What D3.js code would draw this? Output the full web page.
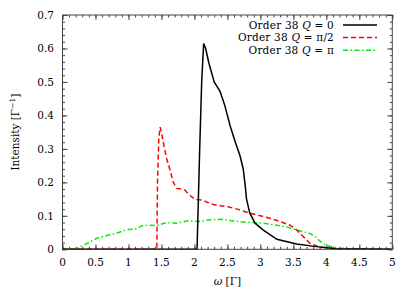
<!DOCTYPE html>
<html>
<head>
<meta charset="utf-8">
<script src="https://cdn.jsdelivr.net/npm/d3@7"></script>
<style>
body { margin: 0; background: #fff; }
</style>
</head>
<body>
<div class="chart"></div>
<script>
// series: [omega, intensity]
const q0 = [[0,0],[2.04,0],[2.06,0.15],[2.08,0.3],[2.11,0.5],[2.14,0.615],[2.17,0.6],[2.22,0.556],[2.3,0.5],[2.39,0.471],[2.46,0.43],[2.54,0.37],[2.62,0.32],[2.69,0.28],[2.74,0.24],[2.77,0.19],[2.79,0.15],[2.84,0.108],[2.92,0.078],[3.04,0.058],[3.25,0.030],[3.55,0.016],[3.85,0.008],[4.15,0.002],[5,0]]

const qHalfPi = [[0,0],[1.43,0],[1.44,0.2],[1.46,0.33],[1.48,0.365],[1.5,0.35],[1.54,0.307],[1.58,0.27],[1.63,0.237],[1.68,0.2],[1.73,0.182],[1.8,0.18],[1.85,0.178],[1.91,0.165],[1.97,0.155],[2.03,0.149],[2.13,0.147],[2.2,0.14],[2.29,0.134],[2.4,0.13],[2.51,0.127],[2.65,0.12],[2.84,0.108],[3.0,0.1],[3.14,0.093],[3.3,0.083],[3.45,0.072],[3.52,0.063],[3.6,0.048],[3.65,0.038],[3.75,0.018],[3.9,0.007],[4.15,0.001],[5,0]]

const qPi = [[0,0],[0.2,0],[0.27,0.008],[0.4,0.02],[0.52,0.033],[0.67,0.041],[0.82,0.048],[0.92,0.055],[1.0,0.059],[1.1,0.06],[1.2,0.07],[1.3,0.072],[1.43,0.071],[1.58,0.08],[1.73,0.078],[1.91,0.085],[2.06,0.083],[2.23,0.088],[2.41,0.09],[2.54,0.086],[2.7,0.082],[2.85,0.08],[3.04,0.078],[3.2,0.073],[3.4,0.067],[3.55,0.058],[3.75,0.047],[3.82,0.04],[3.9,0.025],[3.97,0.015],[4.05,0.009],[4.2,0.004],[4.4,0.001],[5,0]]

const legendLabels = ['0', 'π/2', 'π']
const xTicks = [0, 0.5, 1, 1.5, 2, 2.5, 3, 3.5, 4, 4.5, 5]
const yTicks = [0, 0.1, 0.2, 0.3, 0.4, 0.5, 0.6, 0.7]

const width = 415, height = 291
const margin = {left: 62.5, right: 22.7, top: 15, bottom: 41.7}
const serif = '"DejaVu Serif", serif'
const fs = 10.5

const svg = d3.select('.chart').append('svg')
.attr('width', width)
.attr('height', height)
.style('font-family', serif)

let x = d3.scaleLinear().domain([0, 5]).range([margin.left, width - margin.right])
let y = d3.scaleLinear().domain([0, 0.7]).range([height - margin.bottom, margin.top])

const frameColor = '#444'

// ticks on all four sides, pointing inwards
const minorX = d3.range(0, 5.001, 0.1)
const minorY = d3.range(0, 0.7001, 0.02)

const axes = [
	{ax: d3.axisBottom(x), tr: `translate(0,${y(0)})`, vals: xTicks, minor: minorX},
	{ax: d3.axisTop(x), tr: `translate(0,${y(0.7)})`, vals: xTicks, minor: minorX},
	{ax: d3.axisLeft(y), tr: `translate(${x(0)},0)`, vals: yTicks, minor: minorY},
	{ax: d3.axisRight(y), tr: `translate(${x(5)},0)`, vals: yTicks, minor: minorY}
]

axes.forEach(a => {
	let gMinor = svg.append('g').attr('transform', a.tr)
	.call(a.ax.tickValues(a.minor).tickSize(-2.5).tickFormat(''))
	gMinor.select('.domain').remove()
	gMinor.selectAll('line').attr('stroke', frameColor)

	let gMajor = svg.append('g').attr('transform', a.tr)
	.call(a.ax.tickValues(a.vals).tickSize(-5).tickFormat(''))
	gMajor.select('.domain').remove()
	gMajor.selectAll('line').attr('stroke', frameColor)
})

// tick labels
svg.append('g').selectAll('text')
.data(xTicks)
.enter()
.append('text')
.attr('x', d => x(d))
.attr('y', 266)
.attr('text-anchor', 'middle')
.style('font-family', serif)
.attr('font-size', fs)
.text(d => d3.format('')(d))

svg.append('g').selectAll('text')
.data(yTicks)
.enter()
.append('text')
.attr('x', 54)
.attr('y', d => y(d) + 3.8)
.attr('text-anchor', 'end')
.style('font-family', serif)
.attr('font-size', fs)
.text(d => d === 0 ? '0' : d3.format('.1f')(d))

// curves
const line = d3.line()
.x(d => x(d[0]))
.y(d => y(d[1]))

const series = [
	{data: qPi, color: '#00ee00', dash: '5,2.5,1.5,2.5'},
	{data: qHalfPi, color: '#ff0000', dash: '5,3'},
	{data: q0, color: '#000', dash: null}
]

series.forEach(s => {
	svg.append('path')
	.attr('d', line(s.data))
	.attr('fill', 'none')
	.attr('stroke', s.color)
	.attr('stroke-width', 1.5)
	.attr('stroke-dasharray', s.dash)
})

// frame
svg.append('rect')
.attr('x', x(0))
.attr('y', y(0.7))
.attr('width', x(5) - x(0))
.attr('height', y(0) - y(0.7))
.attr('fill', 'none')
.attr('stroke', frameColor)
.attr('stroke-width', 1)

// legend
const legendStyles = [series[2], series[1], series[0]]
legendLabels.forEach((lab, i) => {
	let yy = 25 + i * 12.6
	let t = svg.append('text')
	.attr('x', 334)
	.attr('y', yy + 3.8)
	.attr('text-anchor', 'end')
	.style('font-family', serif)
	.style('letter-spacing', '0.2px')
	.attr('font-size', fs)
	t.append('tspan').text('Order 38 ')
	t.append('tspan').attr('font-style', 'italic').text('Q')
	t.append('tspan').text(' = ' + lab)

	svg.append('line')
	.attr('x1', 343).attr('x2', 377)
	.attr('y1', yy).attr('y2', yy)
	.attr('stroke', legendStyles[i].color)
	.attr('stroke-width', 1.5)
	.attr('stroke-dasharray', legendStyles[i].dash)
})

// axis titles
let xt = svg.append('text')
.attr('x', (x(0) + x(5)) / 2)
.attr('y', 285)
.attr('text-anchor', 'middle')
.style('font-family', serif)
.attr('font-size', fs)
xt.append('tspan').attr('font-style', 'italic').text('ω')
xt.append('tspan').text(' [Γ]')

let yt = svg.append('text')
.attr('transform', `translate(19,${(y(0) + y(0.7)) / 2}) rotate(-90)`)
.attr('text-anchor', 'middle')
.style('font-family', serif)
.attr('font-size', fs)
yt.append('tspan').text('Intensity [Γ')
yt.append('tspan').attr('font-size', 7.5).attr('dy', -4).text('−1')
yt.append('tspan').attr('dy', 4).text(']')
</script>
</body>
</html>
